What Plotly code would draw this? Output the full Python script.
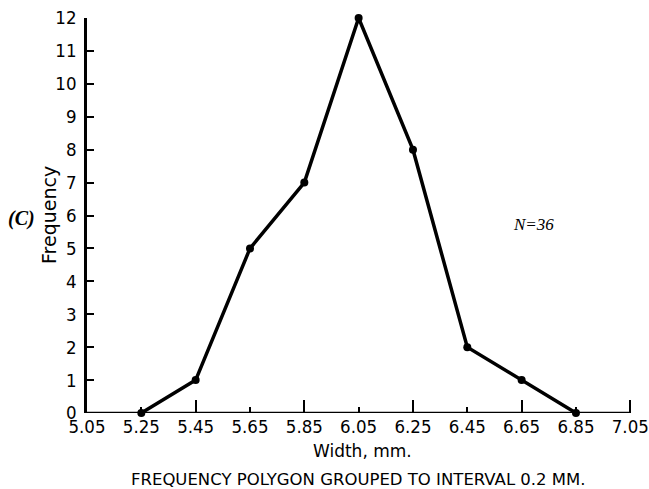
import plotly.graph_objects as go

# Class midpoints (mm) and frequencies of the grouped width measurements
width_mm = [5.25, 5.45, 5.65, 5.85, 6.05, 6.25, 6.45, 6.65, 6.85]
frequency = [0, 1, 5, 7, 12, 8, 2, 1, 0]
x_ticks = [5.05, 5.25, 5.45, 5.65, 5.85, 6.05, 6.25, 6.45, 6.65, 6.85, 7.05]
y_ticks = list(range(0, 13))
n_total = sum(frequency)

W, H = 649, 489
M = dict(l=87, r=16, t=18, b=76)
PAD = 0.01  # small overhang so the closing tick at 7.05 is kept

tick_font = dict(family="Liberation Sans Narrow, DejaVu Sans Condensed", size=18.5,
                 color="black")
x_range = [x_ticks[0], x_ticks[-1] + PAD]

fig = go.Figure()
fig.add_trace(go.Scatter(
    x=width_mm, y=frequency, mode="lines+markers",
    line=dict(color="black", width=3.5),
    marker=dict(color="black", size=8),
    cliponaxis=False, showlegend=False,
))
# invisible trace carrying the second x axis (long ticks every 0.4 mm)
fig.add_trace(go.Scatter(x=[x_ticks[0], x_ticks[-1]], y=[0, 0], xaxis="x2",
                         mode="lines", line=dict(width=0), hoverinfo="skip",
                         showlegend=False))

fig.update_layout(
    width=W, height=H, margin=M,
    paper_bgcolor="white", plot_bgcolor="white",
    xaxis=dict(range=x_range, tickmode="array", tickvals=x_ticks,
               ticktext=[f"{v:.2f}" for v in x_ticks],
               ticks="inside", ticklen=6, tickwidth=2, tickcolor="black",
               showline=False, showgrid=False, zeroline=False,
               tickfont=tick_font, ticklabelstandoff=0,
               ticklabeloverflow="allow", automargin=False),
    xaxis2=dict(range=x_range, overlaying="x", side="bottom",
                tickmode="array", tickvals=x_ticks[::2],
                ticks="inside", ticklen=13, tickwidth=2, tickcolor="black",
                showticklabels=False, showline=False, showgrid=False,
                zeroline=False, automargin=False),
    yaxis=dict(range=[0, 12], tickmode="array", tickvals=y_ticks,
               ticks="inside", ticklen=7, tickwidth=2, tickcolor="black",
               showline=True, linecolor="black", linewidth=2.5,
               showgrid=False, zeroline=False, tickfont=tick_font,
               ticklabelstandoff=4, automargin=False),
)

# x-axis baseline runs from the first to the last tick
fig.add_shape(type="line", xref="x", yref="y", x0=x_ticks[0], x1=x_ticks[-1],
              y0=0, y1=0, line=dict(color="black", width=2.5), layer="below")

# Text labels placed in pixel terms relative to the plot area
plot_l, plot_r = M["l"], W - M["r"]
plot_t, plot_b = M["t"], H - M["b"]
pw, ph = plot_r - plot_l, plot_b - plot_t


def label(text, px, py, font, angle=0):
    fig.add_annotation(text=text, textangle=angle,
                       x=(px - plot_l) / pw, y=(plot_b - py) / ph,
                       xref="paper", yref="paper", xanchor="center",
                       yanchor="middle", showarrow=False, font=font)


label("Frequency", 49, 215,
      dict(family="DejaVu Sans", size=19, color="black"), angle=-90)
label("Width, mm.", 362, 451,
      dict(family="DejaVu Sans", size=17, color="black"))
label("FREQUENCY POLYGON GROUPED TO INTERVAL 0.2 MM.", 358, 479,
      dict(family="DejaVu Sans", size=16.5, color="black"))
label("<b><i>(C)</i></b>", 21, 218,
      dict(family="Liberation Serif", size=20, color="black"))
label(f"<i>N=</i><i>{n_total}</i>", 533, 224,
      dict(family="Liberation Serif", size=17, color="black"))

fig.write_html("out.html")
